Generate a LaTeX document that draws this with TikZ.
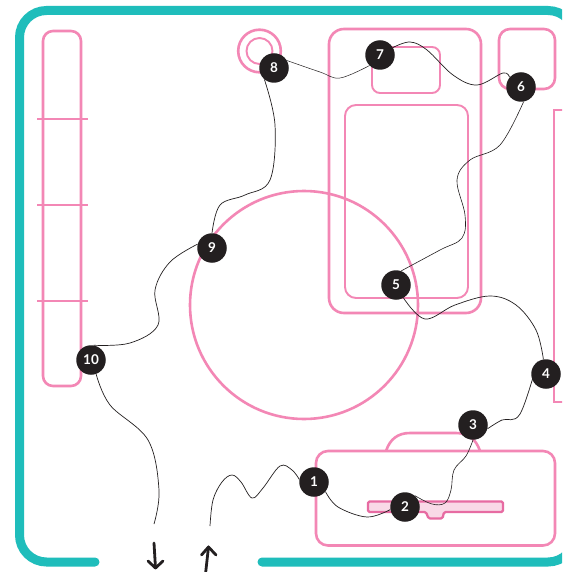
\documentclass[tikz,border=0pt]{standalone}
\usepackage{fontspec}
\setmainfont{Lato}
\definecolor{teal1}{HTML}{1FBDBB}
\definecolor{pink1}{HTML}{F387B5}
\definecolor{pink2}{HTML}{E76BA2}
\definecolor{pale}{HTML}{F9D9E7}
\definecolor{ink}{HTML}{231F20}
\tikzset{
 frameline/.style={draw=teal1,line width=9pt,line cap=round},
 pinkthick/.style={draw=pink1,line width=2.6pt},
 pinkthin/.style={draw=pink1,line width=1.9pt},
 tick/.style={draw=pink1,line width=1.3pt},
 wire/.style={draw=ink,line width=.7pt},
 handarrow/.style={draw=ink,line width=2.8pt,line cap=round,line join=round},
 num/.style={circle,fill=ink,text=white,minimum size=29.5pt,inner sep=0pt,font=\fontsize{13.5}{14}\selectfont\bfseries},
}
\begin{document}
\begin{tikzpicture}[x=1pt,y=-1pt]
\useasboundingbox (0,0) rectangle (562,572);
\fill[white] (0,0) rectangle (562,572);
\begin{scope}
\clip (0,0) rectangle (562,572);
% frame
\draw[frameline,rounded corners=27pt] (95,562) -- (19.5,562) -- (19.5,10.5) -- (575,10.5) -- (575,562) -- (262,562);
% left bar
\draw[pinkthick,rounded corners=10pt] (43,31) rectangle (81,386);
\draw[tick] (37,119) -- (88,119);
\draw[tick] (37,205) -- (88,205);
\draw[tick] (37,301) -- (88,301);
% big circle
\draw[pinkthick] (304,305) circle[radius=114];
% small circle
\draw[pinkthick] (259.5,51) circle[radius=21.3];
\draw[pinkthin] (259.5,51) circle[radius=13];
% tall box
\draw[pinkthick,rounded corners=15pt] (329,29) rectangle (481,313);
\draw[pinkthin,rounded corners=8pt] (372,47) rectangle (440,93);
\draw[pinkthin,rounded corners=11pt] (345,105) rectangle (468,298);
% top right
\draw[pinkthick,rounded corners=11pt] (499,29) rectangle (555,89);
% right box
\draw[pinkthick] (564,110) -- (554,110) -- (554,402) -- (564,402);
% bottom box
\draw[pinkthick] (386,451) .. controls (390,439) and (398,433) .. (410,433) -- (456,433) .. controls (468,433) and (476,439) .. (480,451);
\draw[pinkthick,rounded corners=12pt] (316,451) rectangle (555,545.5);
\draw[draw=pink2,fill=pale,line width=2.3pt,line join=round,rounded corners=1.5pt]
 (368,501.5) -- (503,501.5) -- (503,512) -- (444,512) -- (442.5,518.5) -- (428.5,518.5) -- (426,512) -- (368,512) -- cycle;
\end{scope}
% numbered nodes
\node[num] (n1) at (314,482) {1};
\node[num] (n2) at (405,507) {2};
\node[num] (n3) at (473,425) {3};
\node[num] (n4) at (546,374) {4};
\node[num] (n5) at (396,285) {5};
\node[num] (n6) at (521,87) {6};
\node[num] (n7) at (380,55) {7};
\node[num] (n8) at (274,68) {8};
\node[num] (n9) at (212,248) {9};
\node[num] (n10) at (91,360) {10};
\coordinate (inn) at (210,526);
\coordinate (outt) at (154,524);
% wires
\begin{scope}[smooth,tension=.6]
\draw[wire] plot coordinates {(inn) (213,500) (222,482) (232,475) (241,482) (252,498) (263,488) (280,466) (292,470) (n1.170)};
\draw[wire] plot coordinates {(n1.-40) (338,507) (367,517) (n2.190)};
\draw[wire,line width=.6pt] plot coordinates {(n2.50) (432,504) (445,503) (451,490) (454,470) (466,456) (n3.-90)};
\draw[wire] plot coordinates {(n3.-15) (502,420) (520,414) (n4.125)};
\draw[wire] plot coordinates {(n4.100) (536,330) (516,305) (490,296) (455,305) (425,319) (n5.-60)};
\draw[wire,line width=.6pt] plot coordinates {(n5.70) (440,250) (462,238) (465,215) (457,180) (470,160) (500,145) (n6.-80)};
\draw[wire] plot coordinates {(n6.140) (503,73) (477,85) (453,75) (427,50) (410,42) (n7.30)};
\draw[wire,line width=.5pt] plot coordinates {(n7.-135) (340,78) (320,72) (n8.30)};
\draw[wire] plot coordinates {(n8.-130) (275,125) (270,180) (245,195) (220,205) (n9.90)};
\draw[wire] plot coordinates {(n9.165) (170,262) (155,290) (158,325) (130,343) (n10.80)};
\draw[wire] plot coordinates {(n10.-70) (110,405) (148,440) (159,490) (outt)};
\end{scope}
% hand-drawn arrows
\draw[handarrow] (154,543) -- (155.5,568);
\draw[handarrow] (148,561) -- (155.5,568) -- (163,561);
\draw[handarrow] (205.5,574) -- (208.5,547);
\draw[handarrow] (201.5,555) -- (208.5,547) -- (216,555);
\end{tikzpicture}
\end{document}
